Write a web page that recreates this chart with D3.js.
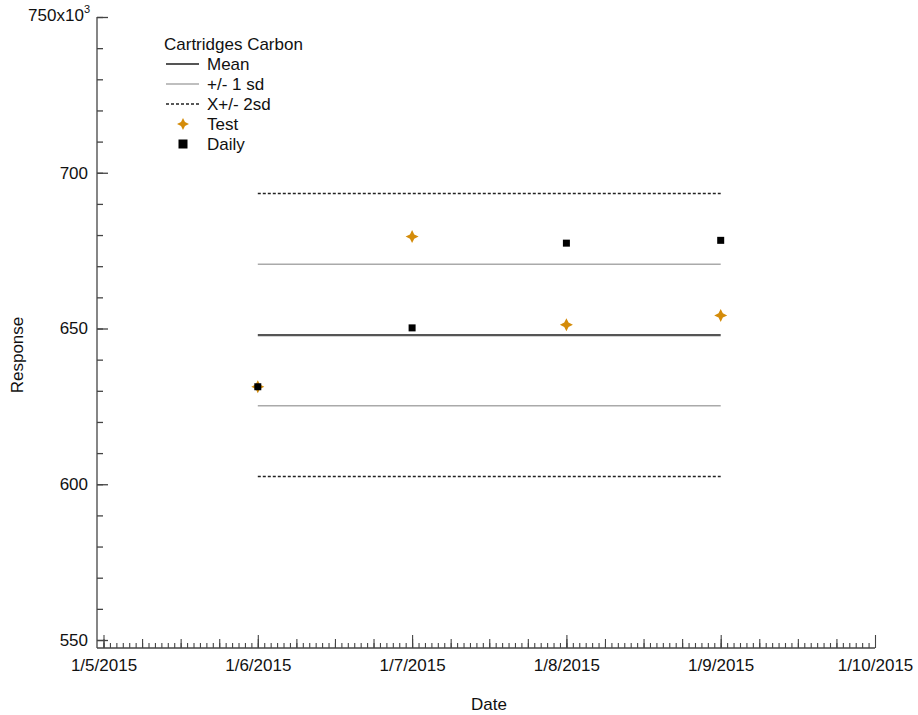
<!DOCTYPE html>
<html>
<head>
<meta charset="utf-8">
<script src="https://cdn.jsdelivr.net/npm/d3@7"></script>
<style>
  body { margin: 0; background: #fff; }
  text { font-family: "Liberation Sans", Arial, sans-serif; fill: #111; }
</style>
</head>
<body>
<svg id="chart" width="918" height="715"></svg>
<script>
// values
const days = [new Date(2015, 0, 6), new Date(2015, 0, 7), new Date(2015, 0, 8), new Date(2015, 0, 9)];
const testValues = [631.3, 679.5, 651.2, 654.2];
const dailyValues = [631.3, 650.2, 677.4, 678.3];
const meanValue = 647.9;
const sdValue = 22.7;
const yTicks = [550, 600, 650, 700, 750];
const legendItems = ["Mean", "+/- 1 sd", "X+/- 2sd", "Test", "Daily"];

const FONT = 17;
const svg = d3.select("#chart");
const x = d3.scaleTime().domain([new Date(2015, 0, 5), new Date(2015, 0, 10)]).range([103.5, 875]);
const y = d3.scaleLinear().domain([550, 750]).range([640, 17]);
const axisColor = "#444";

// axis lines (offset frame like the original)
svg.append("line").attr("x1", 97).attr("x2", 97).attr("y1", 17).attr("y2", 648)
  .attr("stroke", axisColor).attr("stroke-width", 1.3);
svg.append("line").attr("x1", 97).attr("x2", 875).attr("y1", 648).attr("y2", 648)
  .attr("stroke", axisColor).attr("stroke-width", 1.3);

// y axis: minor every 10, major every 50
const yMinor = svg.append("g").attr("transform", "translate(97,0)")
  .call(d3.axisLeft(y).tickValues(d3.range(550, 751, 10)).tickSize(-6).tickFormat(""));
const yAxis = svg.append("g").attr("transform", "translate(97,0)")
  .call(d3.axisLeft(y).tickValues(yTicks).tickSize(-11).tickPadding(9));
[yMinor, yAxis].forEach(g => {
  g.select(".domain").remove();
  g.selectAll("line").attr("stroke", axisColor).attr("stroke-width", 1.3);
});
yAxis.selectAll("text").attr("font-size", FONT).attr("font-family", "Liberation Sans, Arial, sans-serif").attr("fill", "#111");
yAxis.selectAll(".tick").filter(d => d === 750).select("text").each(function () {
  const t = d3.select(this).text("").attr("x", -7).attr("dy", "0.2em");
  t.append("tspan").text("750x10");
  t.append("tspan").text("3").attr("font-size", 11).attr("dy", "-0.7em");
});

// x axis: hourly, 6-hourly, daily ticks
const xStart = x.domain()[0], xEnd = x.domain()[1];
const xHour = svg.append("g").attr("transform", "translate(0,648)")
  .call(d3.axisBottom(x).tickValues(d3.timeHour.every(1).range(xStart, xEnd)).tickSize(-5).tickFormat(""));
const xSix = svg.append("g").attr("transform", "translate(0,648)")
  .call(d3.axisBottom(x).tickValues(d3.timeHour.every(6).range(xStart, xEnd)).tickSize(-9).tickFormat(""));
const xAxis = svg.append("g").attr("transform", "translate(0,648)")
  .call(d3.axisBottom(x).tickValues(d3.timeDay.range(xStart, d3.timeDay.offset(xEnd, 1)))
    .tickSize(-13).tickPadding(11).tickFormat(d3.timeFormat("%-m/%-d/%Y")));
[xHour, xSix, xAxis].forEach(g => {
  g.select(".domain").remove();
  g.selectAll("line").attr("stroke", axisColor).attr("stroke-width", 1.1);
});
xAxis.selectAll("text").attr("font-size", FONT).attr("font-family", "Liberation Sans, Arial, sans-serif").attr("fill", "#111");

// axis titles
svg.append("text").attr("transform", "translate(23,355) rotate(-90)")
  .attr("text-anchor", "middle").attr("font-size", FONT).text("Response");
svg.append("text").attr("x", 489).attr("y", 710)
  .attr("text-anchor", "middle").attr("font-size", FONT).text("Date");

// control lines
const x0 = x(days[0]), x1 = x(days[days.length - 1]);
const lines = [
  { v: meanValue, stroke: "#555", w: 2.2, dash: null },
  { v: meanValue + sdValue, stroke: "#aaa", w: 1.5, dash: null },
  { v: meanValue - sdValue, stroke: "#aaa", w: 1.5, dash: null },
  { v: meanValue + 2 * sdValue, stroke: "#222", w: 1.5, dash: "3,2" },
  { v: meanValue - 2 * sdValue, stroke: "#222", w: 1.5, dash: "3,2" },
];
svg.append("g").selectAll("line").data(lines).join("line")
  .attr("x1", x0).attr("x2", x1)
  .attr("y1", d => y(d.v)).attr("y2", d => y(d.v))
  .attr("stroke", d => d.stroke).attr("stroke-width", d => d.w)
  .attr("stroke-dasharray", d => d.dash);

// 4-point star
function star(r) {
  const w = r * 0.33;
  return `M0,${-r}L${w},${-w}L${r},0L${w},${w}L0,${r}L${-w},${w}L${-r},0L${-w},${-w}Z`;
}
const orange = "#d48c0a";

svg.append("g").selectAll("path").data(days.map((d, i) => [d, testValues[i]])).join("path")
  .attr("transform", d => `translate(${x(d[0])},${y(d[1])})`)
  .attr("d", star(6.5)).attr("fill", orange);
svg.append("g").selectAll("rect").data(days.map((d, i) => [d, dailyValues[i]])).join("rect")
  .attr("x", d => x(d[0]) - 3.5).attr("y", d => y(d[1]) - 3.5)
  .attr("width", 7).attr("height", 7).attr("fill", "#000");

// legend
const lg = svg.append("g");
lg.append("text").attr("x", 164).attr("y", 50).attr("font-size", FONT).text("Cartridges Carbon");
const rowY = i => 64 + i * 20;
legendItems.forEach((name, i) => {
  const cy = rowY(i);
  lg.append("text").attr("x", 207).attr("y", cy + 6).attr("font-size", FONT).text(name);
  if (i < 3) {
    const st = [lines[0], lines[1], lines[3]][i];
    lg.append("line").attr("x1", 166).attr("x2", 199).attr("y1", cy).attr("y2", cy)
      .attr("stroke", st.stroke).attr("stroke-width", st.w).attr("stroke-dasharray", st.dash);
  } else if (i === 3) {
    lg.append("path").attr("transform", `translate(183,${cy})`).attr("d", star(6)).attr("fill", orange);
  } else {
    lg.append("rect").attr("x", 178.5).attr("y", cy - 4.5).attr("width", 9).attr("height", 9).attr("fill", "#000");
  }
});
</script>
</body>
</html>
